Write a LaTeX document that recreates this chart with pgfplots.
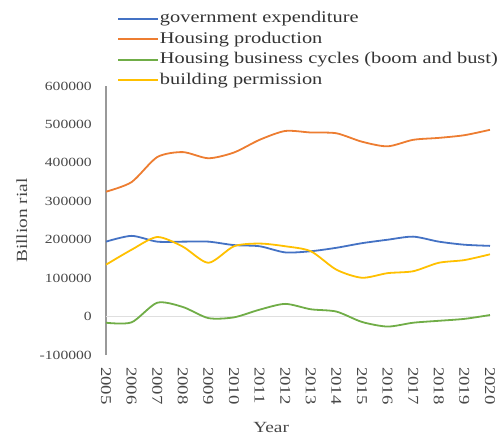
\documentclass[border=0pt]{standalone}
\usepackage{pgfplots}
\pgfplotsset{compat=1.18}
\usepackage{fontspec}
\setmainfont{Liberation Serif}[FakeStretch=1.25]
\definecolor{cblue}{HTML}{4472C4}
\definecolor{corange}{HTML}{ED7D31}
\definecolor{cgreen}{HTML}{70AD47}
\definecolor{cyellow}{HTML}{FFC000}
\definecolor{ctext}{HTML}{595959}
\begin{document}
\begin{tikzpicture}
\begin{axis}[
  scale only axis, width=384bp, height=269bp,
  xmin=2005, xmax=2020, ymin=-100000, ymax=600000,
  xtick={2005,2006,...,2020},
  xticklabels={2005,2006,2007,2008,2009,2010,2011,2012,2013,2014,2015,2016,2017,2018,2019,2020},
  ytick={-100000,0,100000,200000,300000,400000,500000,600000},
  yticklabels={-100000,0,100000,200000,300000,400000,500000,600000},
  scaled y ticks=false,
  major tick length=0pt,
  axis lines*=left,
  x axis line style={draw=none},
  y axis line style={draw=gray!80, line width=1.2bp},
  extra y ticks={0},
  extra y tick labels={},
  extra y tick style={grid=major, major grid style={draw=gray!25, line width=1bp}},
  yticklabel style={font=\fontsize{12.5bp}{14bp}\selectfont, text=ctext!80!black, inner sep=0pt, xshift=-14bp},
  xticklabel style={yshift=-12bp, font=\fontsize{15bp}{17bp}\selectfont, text=ctext!80!black, rotate=-90, anchor=west, inner sep=0pt},
  xlabel={Year},
  xlabel style={font=\fontsize{15.5bp}{17bp}\selectfont, text=ctext!80!black, at={(axis description cs:0.43,-0.268)}, anchor=center},
  ylabel={Billion rial},
  ylabel style={font=\fontsize{15.5bp}{17bp}\selectfont, text=ctext!80!black, at={(axis description cs:-0.219,0.5)}, anchor=center},
  legend style={at={(axis description cs:0.0286,1.289)}, anchor=north west, draw=none, fill=none, inner sep=0pt,
    font=\fontsize{16.3bp}{19bp}\selectfont, text=black!80,
    nodes={inner sep=1bp, text height=13.5bp, text depth=5bp, anchor=west}, row sep=0bp},
  legend cell align=left,
  legend image code/.code={\draw[#1, line width=1.8bp] (0bp,0bp) -- (40bp,0bp);},
  every axis plot/.append style={smooth, tension=0.45, line width=1.8bp},
]
\addplot[cblue] coordinates {
(2005,195000)(2006,210000)(2007,195000)(2008,195000)(2009,195000)(2010,186000)
(2011,183000)(2012,167000)(2013,170000)(2014,179000)(2015,191000)(2016,200000)
(2017,208000)(2018,195000)(2019,187000)(2020,184000)};
\addlegendentry{government expenditure}
\addplot[corange] coordinates {
(2005,325000)(2006,350000)(2007,415000)(2008,428000)(2009,412000)(2010,427000)
(2011,460000)(2012,483000)(2013,479000)(2014,477000)(2015,455000)(2016,443000)
(2017,460000)(2018,465000)(2019,472000)(2020,486000)};
\addlegendentry{Housing production}
\addplot[cgreen] coordinates {
(2005,-16000)(2006,-15000)(2007,36000)(2008,25000)(2009,-4000)(2010,-2000)
(2011,18000)(2012,33000)(2013,19000)(2014,13000)(2015,-14000)(2016,-26000)
(2017,-16000)(2018,-11000)(2019,-6000)(2020,4000)};
\addlegendentry{Housing business cycles (boom and bust)}
\addplot[cyellow] coordinates {
(2005,135000)(2006,174000)(2007,207000)(2008,182000)(2009,140000)(2010,183000)
(2011,190000)(2012,183000)(2013,170000)(2014,122000)(2015,101000)(2016,113000)
(2017,118000)(2018,140000)(2019,147000)(2020,162000)};
\addlegendentry{building permission}
\end{axis}
\pgfresetboundingbox
\path[use as bounding box] ([shift={(-106bp,-86bp)}]current axis.south west) rectangle ([shift={(393bp,355bp)}]current axis.south west);
\end{tikzpicture}
\end{document}
